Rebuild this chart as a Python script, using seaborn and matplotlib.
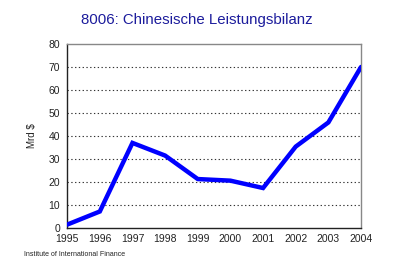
import matplotlib
matplotlib.use("Agg")
import matplotlib.pyplot as plt
import seaborn as sns
import pandas as pd

years = [1995, 1996, 1997, 1998, 1999, 2000, 2001, 2002, 2003, 2004]
values = [1.5, 7.2, 37.0, 31.5, 21.3, 20.6, 17.4, 35.4, 45.9, 70.0]
yticks = [0, 10, 20, 30, 40, 50, 60, 70, 80]

sns.set_style("white")
plt.rcParams['font.family'] = ['Liberation Sans', 'DejaVu Sans']

df = pd.DataFrame({"year": years, "value": values})

fig = plt.figure(figsize=(3.95, 2.68), dpi=100)
ax = fig.add_axes([0.170, 0.149, 0.744, 0.687])
sns.lineplot(data=df, x="year", y="value", ax=ax, color="#0000ff", linewidth=3.2,
             solid_joinstyle="miter", zorder=3)
ax.set_xlim(years[0], years[-1])
ax.set_ylim(0, 80)
ax.set_yticks(yticks)
ax.set_xticks(years)
ax.set_xticklabels([str(y) for y in years])
for y in yticks[1:-1]:
    ax.axhline(y, color="#333333", linestyle=(0, (1.2, 2.2)), linewidth=0.8, zorder=1)
ax.tick_params(axis="both", length=0, labelsize=7.5, colors="#222222")
ax.tick_params(axis="x", pad=4)
ax.tick_params(axis="y", pad=5)
ax.set_xlabel("")
ax.set_ylabel("Mrd $", fontsize=7, color="#222222", labelpad=8)
for s in ["left", "bottom"]:
    ax.spines[s].set_color("#222222")
    ax.spines[s].set_linewidth(1.0)
for s in ["top", "right"]:
    ax.spines[s].set_color("#888888")
    ax.spines[s].set_linewidth(1.0)
fig.text(0.497, 0.925, "8006: Chinesische Leistungsbilanz", ha="center", va="center",
         fontsize=10.8, color="#1c1c9c")
fig.text(0.061, 0.052, "Institute of International Finance", ha="left", va="center",
         fontsize=5, color="#222222")
fig.savefig("out.png", dpi=100)
